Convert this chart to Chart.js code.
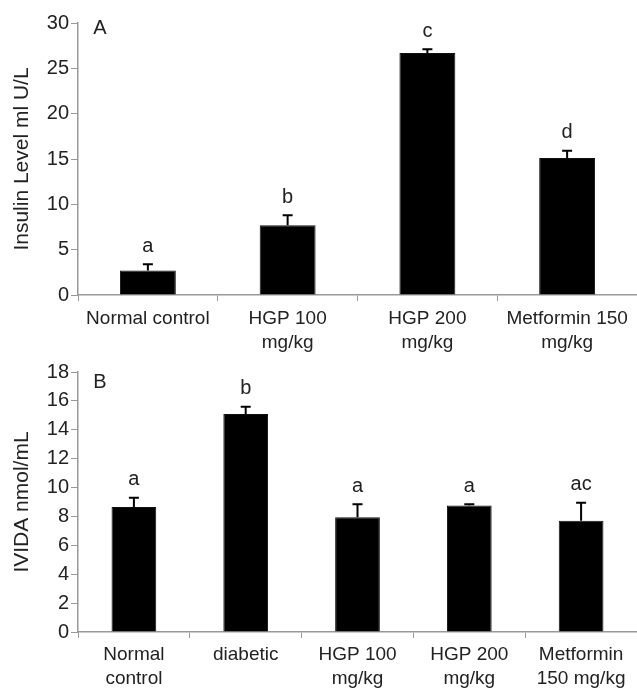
<!DOCTYPE html>
<html>
<head>
<meta charset="utf-8">
<script src="https://cdn.jsdelivr.net/npm/chart.js@4/dist/chart.umd.min.js"></script>
<style>
html, body { margin: 0; padding: 0; background: #fff; }
#wrapA { position: absolute; left: 0; top: 0; width: 637px; height: 362px; }
#wrapB { position: absolute; left: 0; top: 350px; width: 637px; height: 338px; }
</style>
</head>
<body>
<div id="wrapA"><canvas id="chartA"></canvas></div>
<div id="wrapB"><canvas id="chartB"></canvas></div>
<script>
// Panel A - insulin
const catsA = ['Normal control', ['HGP 100', 'mg/kg'], ['HGP 200', 'mg/kg'], ['Metformin 150', 'mg/kg']];
const valsA = [2.7, 7.7, 26.7, 15.1];
const errA = [0.7, 1.1, 0.4, 0.8];
const lettersA = ['a', 'b', 'c', 'd'];
const ticksA = [0, 5, 10, 15, 20, 25, 30];

// Panel B - MDA
const catsB = [['Normal', 'control'], 'diabetic', ['HGP 100', 'mg/kg'], ['HGP 200', 'mg/kg'], ['Metformin', '150 mg/kg']];
const valsB = [8.65, 15.1, 7.95, 8.75, 7.7];
const errB = [0.65, 0.5, 0.9, 0.1, 1.25];
const lettersB = ['a', 'b', 'a', 'a', 'ac'];
const ticksB = [0, 2, 4, 6, 8, 10, 12, 14, 16, 18];

const FONT = '"Liberation Sans", Arial, sans-serif';
const AXIS = '#999';
const TXT = '#222';

// barras de error + letras + etiqueta del panel
const extras = {
    id: 'extras',
    afterDatasetsDraw(chart, args, o) {
        const ctx = chart.ctx, y = chart.scales.y;
        const meta = chart.getDatasetMeta(0);
        ctx.save();
        ctx.strokeStyle = '#000'; ctx.lineWidth = 2;
        ctx.fillStyle = TXT;
        ctx.font = '20px ' + FONT;
        ctx.textAlign = 'center'; ctx.textBaseline = 'middle';
        o.values.forEach((v, i) => {
            const cx = meta.data[i].x;
            const top = y.getPixelForValue(v + o.errors[i]);
            ctx.beginPath();
            ctx.moveTo(cx, y.getPixelForValue(v)); ctx.lineTo(cx, top);
            ctx.moveTo(cx - 5, top); ctx.lineTo(cx + 5, top);
            ctx.stroke();
            ctx.fillText(o.letters[i], cx, top - 18);
        });
        ctx.fillText(o.panel, chart.chartArea.left + o.px, chart.chartArea.top + o.py);
        ctx.restore();
    }
};

function hacerGrafico(id, cats, vals, errs, letters, ticks, title, axisH, padTop, panel, px, py, tpad) {
    return new Chart(document.getElementById(id), {
        type: 'bar',
        data: { labels: cats, datasets: [{ data: vals, backgroundColor: '#000', borderColor: '#111', borderWidth: 1, barPercentage: 0.4, categoryPercentage: 1 }] },
        options: {
            responsive: true, maintainAspectRatio: false, animation: false,
            layout: { padding: { top: padTop, right: 0, left: 0, bottom: 0 } },
            plugins: {
                legend: { display: false }, tooltip: { enabled: false },
                extras: { values: vals, errors: errs, letters: letters, panel: panel, px: px, py: py }
            },
            scales: {
                x: {
                    grid: { drawOnChartArea: false, tickLength: 6, color: AXIS, offset: true },
                    border: { color: AXIS, width: 1.5 },
                    ticks: { color: TXT, font: { family: FONT, size: 19, lineHeight: 1.3 }, maxRotation: 0, autoSkip: false, padding: tpad },
                    afterFit: s => { s.height = axisH; }
                },
                y: {
                    min: ticks[0], max: ticks[ticks.length - 1],
                    afterBuildTicks: s => { s.ticks = ticks.map(v => ({ value: v })); },
                    grid: { drawOnChartArea: false, tickLength: 7, color: AXIS },
                    border: { color: AXIS, width: 1.5 },
                    ticks: { color: TXT, font: { family: FONT, size: 20 }, padding: 2 },
                    title: { display: true, text: title, color: TXT, font: { family: FONT, size: 21 }, padding: { top: 10, bottom: 0 } },
                    afterFit: s => { s.width = 78; }
                }
            }
        },
        plugins: [extras]
    });
}

hacerGrafico('chartA', catsA, valsA, errA, lettersA, ticksA, 'Insulin Level ml U/L', 67, 23, 'A', 22, 5, 5);
hacerGrafico('chartB', catsB, valsB, errB, lettersB, ticksB, 'IVIDA nmol/mL', 56, 22, 'B', 22, 10, 4);
</script>
</body>
</html>
